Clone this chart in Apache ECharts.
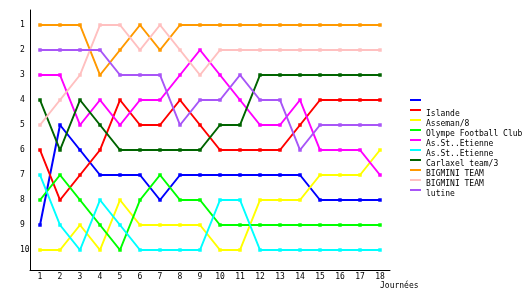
<!DOCTYPE html>
<html>
<head>
<meta charset="utf-8">
<script src="https://cdn.jsdelivr.net/npm/echarts@6/dist/echarts.min.js"></script>
<style>
html,body{margin:0;padding:0;background:#fff;}
#chart{width:530px;height:300px;}
</style>
</head>
<body>
<div id="chart"></div>
<script>
// Journées (x categories)
const days = [1,2,3,4,5,6,7,8,9,10,11,12,13,14,15,16,17,18];
// Rank tick labels
const rankTicks = [1,2,3,4,5,6,7,8,9,10];

// Team names (legend order); duplicates get an invisible trailing space so the legend keeps both
const teamNames = [' ', 'Islande', 'Asseman/8', 'Olympe Football Club', 'As.St..Etienne', 'As.St..Etienne ', 'Carlaxel team/3', 'BIGMINI TEAM', 'BIGMINI TEAM ', 'lutine'];
const teamColors = ['#0000ff', '#ff0000', '#ffff00', '#00ff00', '#ff00ff', '#00ffff', '#006400', '#ff9900', '#ffc0c0', '#a855f7'];

// Ranks per journée
const rankBlue     = [9,5,6,7,7,7,8,7,7,7,7,7,7,7,8,8,8,8];
const rankIslande  = [6,8,7,6,4,5,5,4,5,6,6,6,6,5,4,4,4,4];
const rankAsseman  = [10,10,9,10,8,9,9,9,9,10,10,8,8,8,7,7,7,6];
const rankOlympe   = [8,7,8,9,10,8,7,8,8,9,9,9,9,9,9,9,9,9];
const rankASSE1    = [3,3,5,4,5,4,4,3,2,3,4,5,5,4,6,6,6,7];
const rankASSE2    = [7,9,10,8,9,10,10,10,10,8,8,10,10,10,10,10,10,10];
const rankCarlaxel = [4,6,4,5,6,6,6,6,6,5,5,3,3,3,3,3,3,3];
const rankBigmini1 = [1,1,1,3,2,1,2,1,1,1,1,1,1,1,1,1,1,1];
const rankBigmini2 = [5,4,3,1,1,2,1,2,3,2,2,2,2,2,2,2,2,2];
const rankLutine   = [2,2,2,2,3,3,3,5,4,4,3,4,4,6,5,5,5,5];

const allRanks = [rankBlue, rankIslande, rankAsseman, rankOlympe, rankASSE1, rankASSE2, rankCarlaxel, rankBigmini1, rankBigmini2, rankLutine];

const FONT = 'DejaVu Sans Mono';
const FS = 8;

const series = allRanks.map((ranks, i) => ({
  type: 'line',
  name: teamNames[i],
  data: ranks.map((r, k) => [days[k], r]),
  symbol: 'rect',
  symbolSize: 3.5,
  showSymbol: true,
  lineStyle: { color: teamColors[i], width: 2 },
  itemStyle: { color: teamColors[i] },
  emphasis: { disabled: true },
  animation: false
}));

const chart = echarts.init(document.getElementById('chart'), null, { renderer: 'canvas' });
chart.setOption({
  backgroundColor: '#ffffff',
  animation: false,
  grid: { left: 30, right: 140, top: 10, bottom: 30, containLabel: false },
  xAxis: {
    type: 'value',
    min: 0.5,
    max: 18.5,
    name: 'Journées',
    nameLocation: 'end',
    nameGap: -10,
    nameTextStyle: { fontFamily: FONT, fontSize: FS, color: '#000', align: 'left', verticalAlign: 'top', padding: [12, 0, 0, 0] },
    axisLine: { show: true, onZero: false, lineStyle: { color: '#000', width: 1 } },
    axisTick: { show: false },
    splitLine: { show: false },
    axisLabel: { customValues: days, margin: 3, fontFamily: FONT, fontSize: FS, color: '#000', showMinLabel: true, showMaxLabel: true }
  },
  yAxis: {
    type: 'value',
    inverse: true,
    min: 0.4,
    max: 10.8,
    axisLine: { show: true, onZero: false, lineStyle: { color: '#000', width: 1 } },
    axisTick: { show: false },
    splitLine: { show: false },
    axisLabel: { customValues: rankTicks, align: 'left', margin: 10, fontFamily: FONT, fontSize: FS, color: '#000' }
  },
  legend: {
    orient: 'vertical',
    left: 410,
    top: 99,
    padding: 0,
    itemGap: 0,
    itemWidth: 11,
    itemHeight: 10,
    icon: 'path://M0,0H11V2H0Z M0,10L0.001,10Z',
    selectedMode: false,
    data: teamNames.map((n, i) => ({ name: n, itemStyle: { color: teamColors[i] } })),
    textStyle: { fontFamily: FONT, fontSize: FS, color: '#000', lineHeight: 10 }
  },
  series: series
});
</script>
</body>
</html>
